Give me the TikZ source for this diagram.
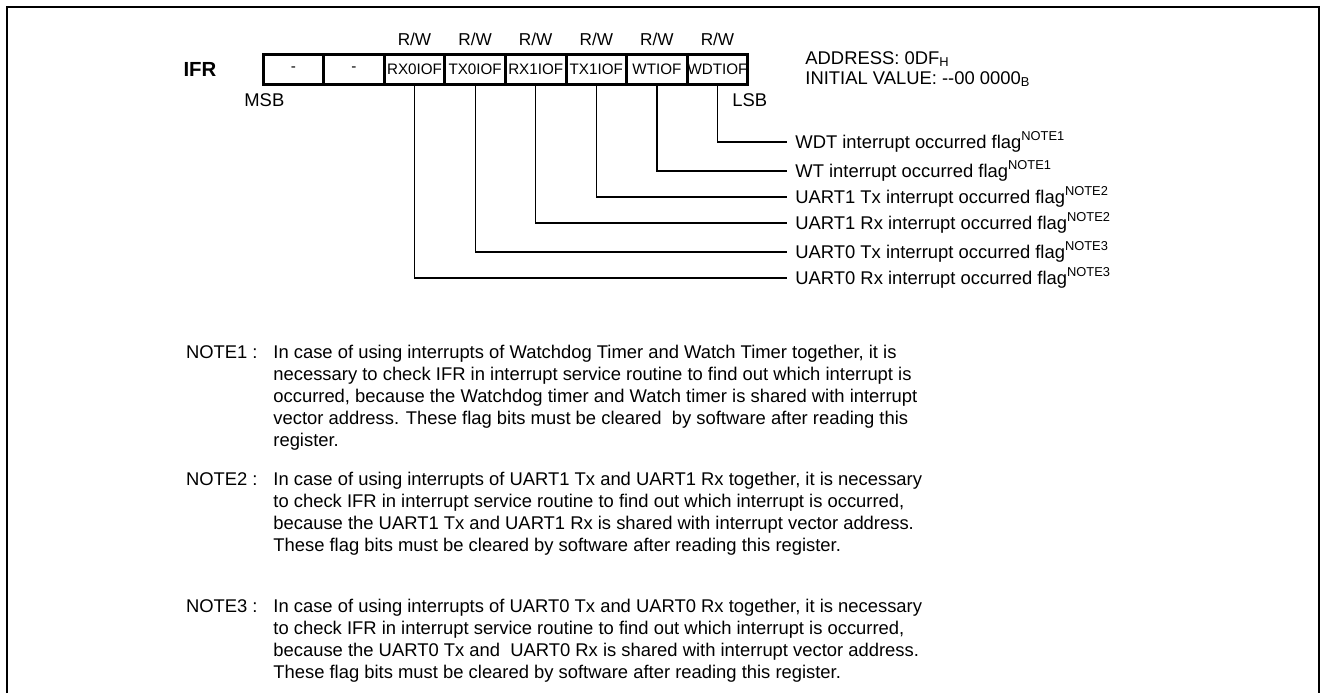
\documentclass[tikz,border=0pt]{standalone}
\usepackage{fontspec}
\setmainfont{Liberation Sans}
\usetikzlibrary{positioning}

\begin{document}
\begin{tikzpicture}[x=0.5pt,y=-0.5pt,
    bitcell/.style={draw,line width=1.5pt,minimum width=30.3pt,minimum height=15pt,
      inner sep=0pt,font=\fontsize{7.6}{9}\selectfont},
    regtext/.style={inner sep=0pt,font=\fontsize{9.2}{11}\selectfont},
    flaglabel/.style={anchor=west,inner xsep=4pt,inner ysep=0pt,text height=6.6pt,text depth=0pt,
      font=\fontsize{9.2}{11}\selectfont},
    notelabel/.style={anchor=north east,inner sep=0pt,font=\fontsize{9.2}{11}\selectfont},
    notetext/.style={anchor=north west,inner sep=0pt,align=left,
      font=\fontsize{9.2}{11}\selectfont}]
  \useasboundingbox (0,0) rectangle (1322,693);
  % frame, open at the bottom
  \draw[line width=1.2pt] (7,693) -- (7,7) -- (1319,7) -- (1319,693);

  % register
  \node[regtext,anchor=base,font=\bfseries\fontsize{10.2}{12}\selectfont] (ifr) at (200,76) {IFR};
  \foreach \name/\bit [count=\i from 0] in {b7/-,b6/-,b5/RX0IOF,b4/TX0IOF,b3/RX1IOF,b2/TX1IOF,b1/WTIOF,b0/WDTIOF}
    \node[bitcell] (\name) at ({293.3+60.6*\i},69) {\bit};
  \foreach \name in {b5,b4,b3,b2,b1,b0}
    \node[regtext,anchor=base,font=\fontsize{8.6}{10}\selectfont] (rw\name) at (\name.north |- 0,45) {R/W};
  \node[regtext,anchor=base west] (msb) at (244,106) {MSB};
  \node[regtext,anchor=base west] (lsb) at (732,106) {LSB};
  \node[regtext,anchor=base west] (addr) at (805,64) {ADDRESS: 0DF\textsubscript{H}};
  \node[regtext,anchor=base west] (init) at (805,84) {INITIAL VALUE: -{}-00 0000\textsubscript{B}};

  % flag descriptions
  \foreach \name/\y/\src/\note in {b0/142/WDT/1,b1/171/WT/1,b2/197/UART1 Tx/2,
      b3/223/UART1 Rx/2,b4/252/UART0 Tx/3,b5/278/UART0 Rx/3} {
    \node[flaglabel] (f\name) at (787,\y) {\src{} interrupt occurred flag\textsuperscript{NOTE\note}};
    \draw[line width=0.6pt] (\name.south) |- (f\name.west);
  }

  % notes
  \node[notelabel] (n1) at (258,345) {NOTE1 :};
  \node[notetext] (t1) at (273,345) {In case of using interrupts of Watchdog Timer and Watch Timer together, it is\\
    necessary to check IFR in interrupt service routine to find out which interrupt is\\
    occurred, because the Watchdog timer and Watch timer is shared with interrupt\\
    vector address. These flag bits must be cleared\ \ by software after reading this\\
    register.};
  \node[notelabel] (n2) at (258,472) {NOTE2 :};
  \node[notetext] (t2) at (273,472) {In case of using interrupts of UART1 Tx and UART1 Rx together, it is necessary\\
    to check IFR in interrupt service routine to find out which interrupt is occurred,\\
    because the UART1 Tx and UART1 Rx is shared with interrupt vector address.\\
    These flag bits must be cleared by software after reading this register.};
  \node[notelabel] (n3) at (258,599) {NOTE3 :};
  \node[notetext] (t3) at (273,599) {In case of using interrupts of UART0 Tx and UART0 Rx together, it is necessary\\
    to check IFR in interrupt service routine to find out which interrupt is occurred,\\
    because the UART0 Tx and\ \ UART0 Rx is shared with interrupt vector address.\\
    These flag bits must be cleared by software after reading this register.};
\end{tikzpicture}
\end{document}
